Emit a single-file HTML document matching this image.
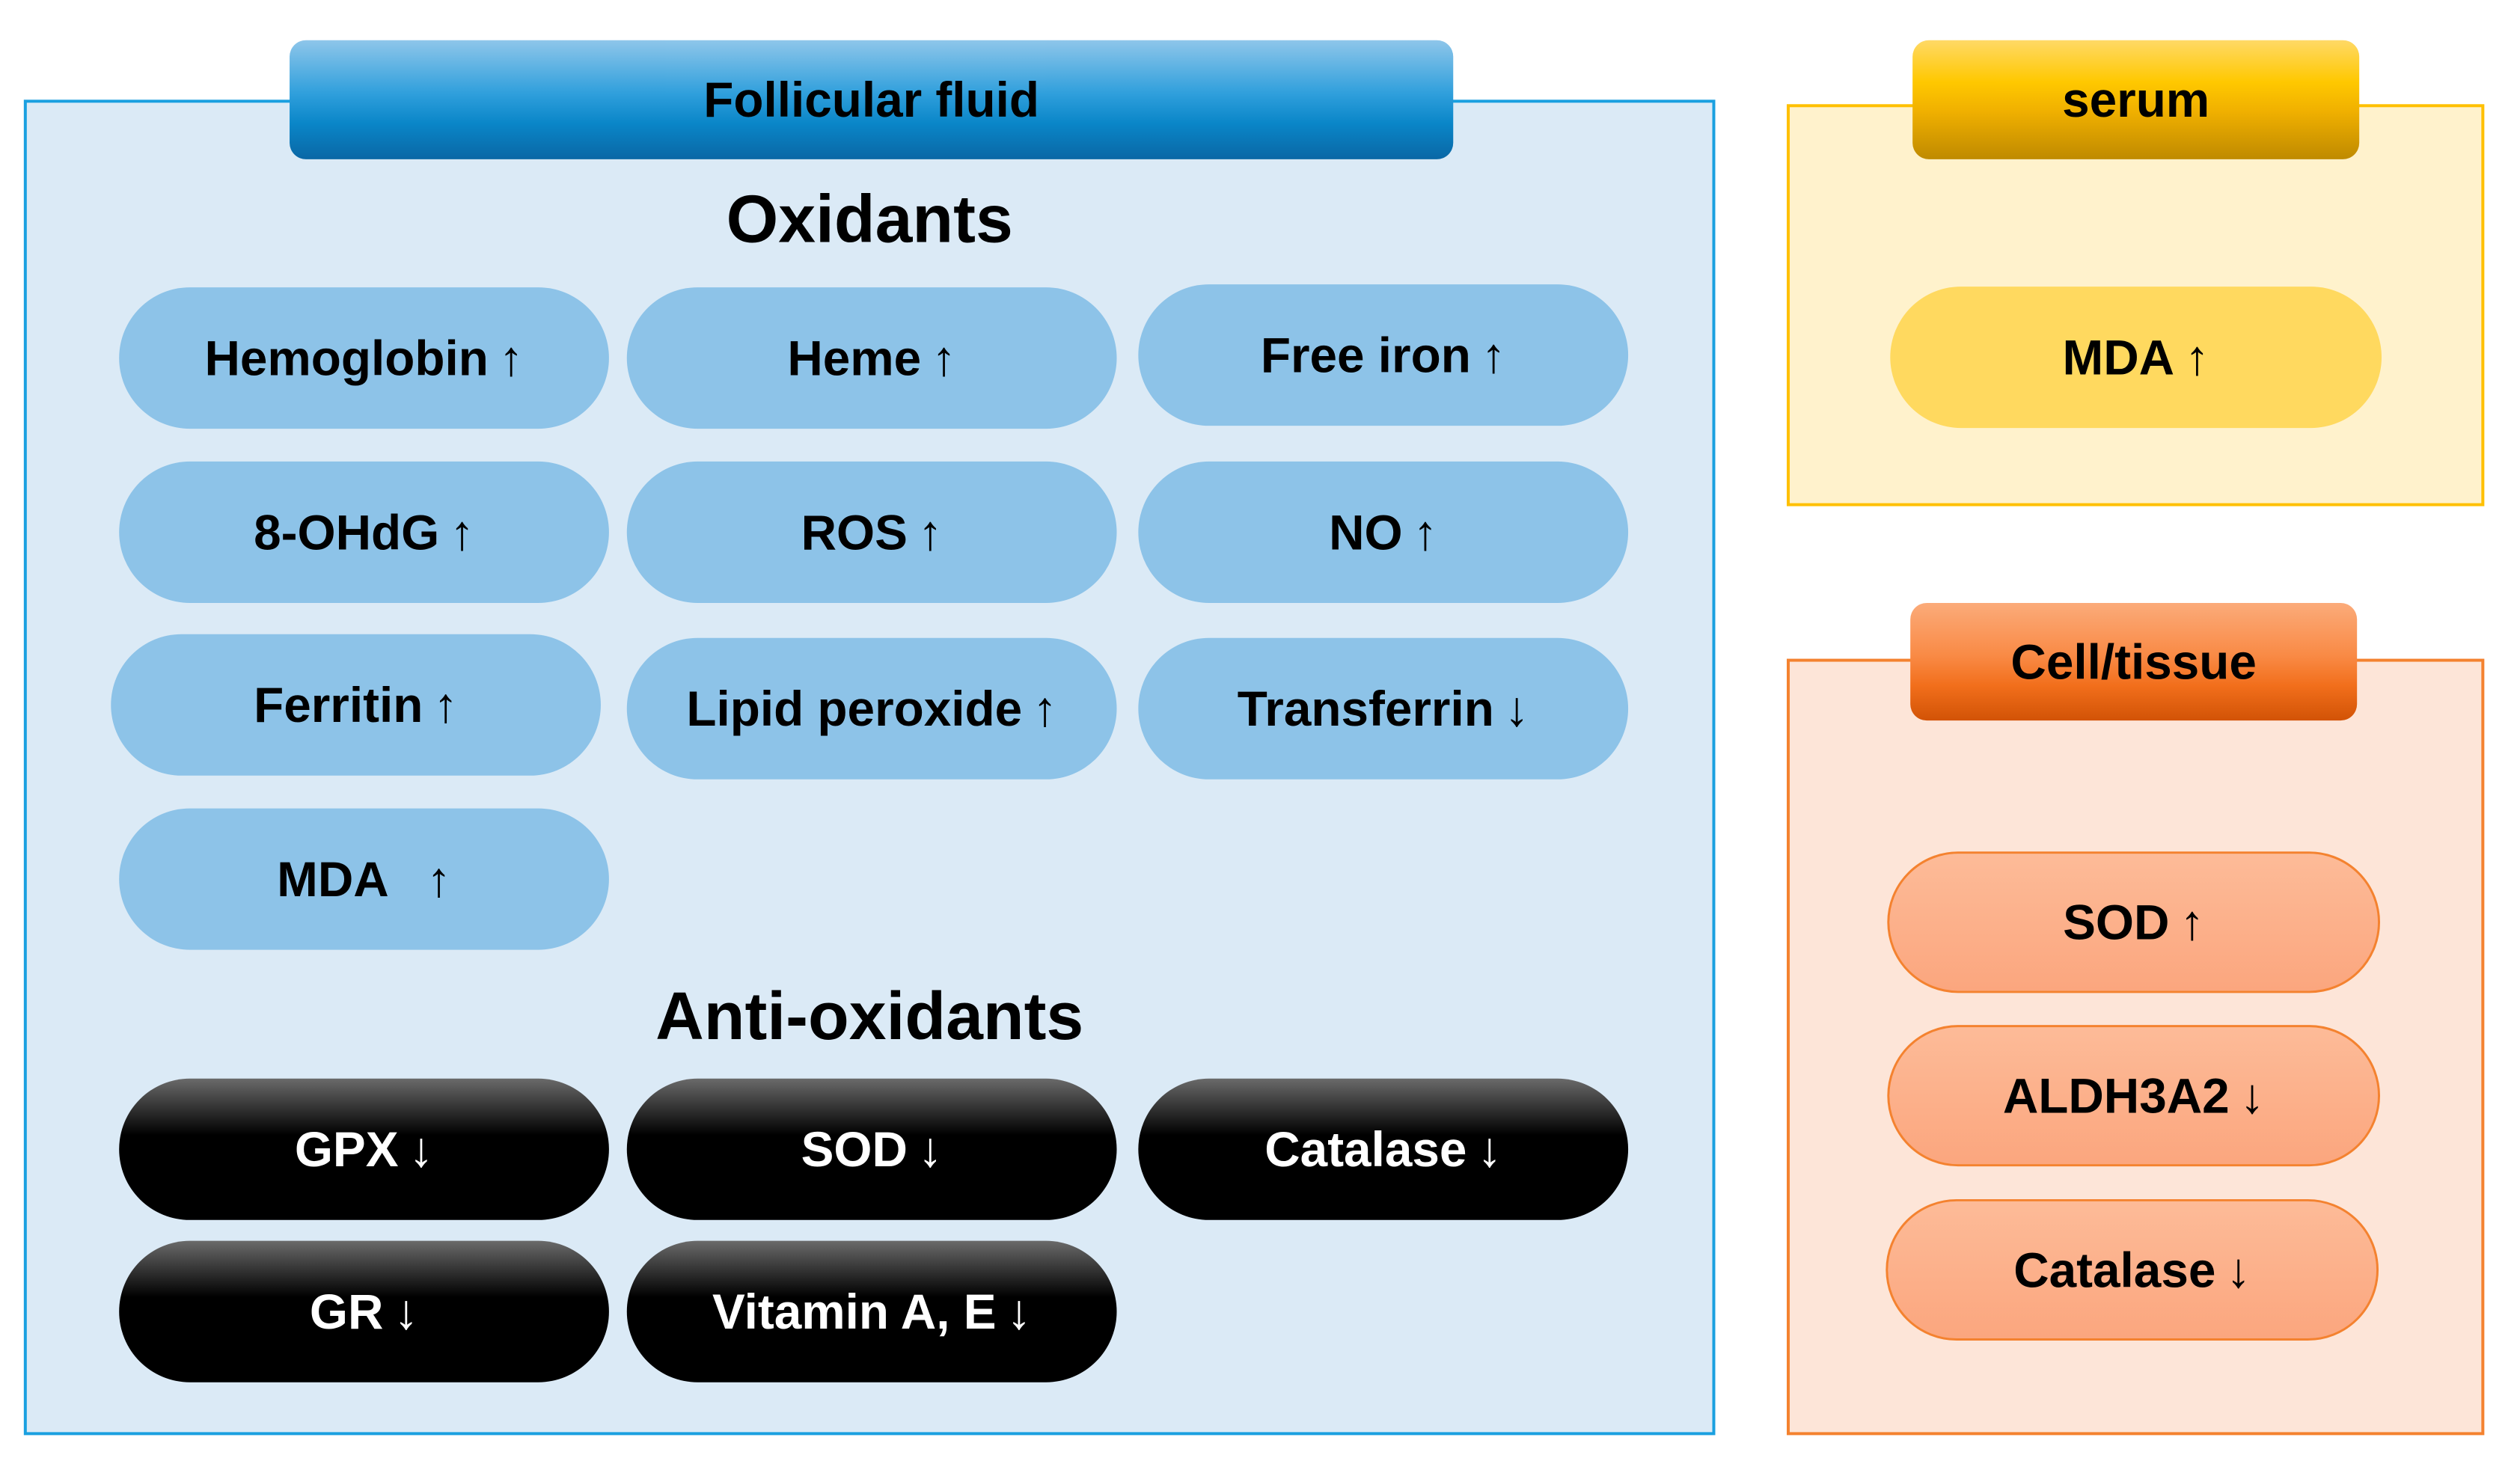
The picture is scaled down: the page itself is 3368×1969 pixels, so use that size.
<!DOCTYPE html>
<html><head><meta charset="utf-8"><style>
body{margin:0;width:3368px;height:1969px;background:#fff;position:relative;overflow:hidden;font-family:"Liberation Sans",sans-serif;}
#w{position:absolute;left:0;top:0;width:3368px;height:1969px;transform:scale(0.995);transform-origin:0 0;}
.box{position:absolute;box-sizing:border-box;}
.hd{position:absolute;box-sizing:border-box;border-radius:22px;display:flex;align-items:center;justify-content:center;font-weight:bold;font-size:66px;color:#000;}
.p{position:absolute;box-sizing:border-box;border-radius:95px;display:flex;align-items:center;justify-content:center;font-weight:bold;font-size:66px;color:#000;width:658px;height:190px;}
.b{background:#8dc3e8;}
.k{background:linear-gradient(#6a6a6a 0%,#000 40%,#000 100%);color:#fff;}
.ar{font-weight:normal;margin-left:14px;}
.t{position:absolute;font-weight:bold;color:#000;text-align:center;}
</style></head><body><div id="w">
<div class="box" style="left:32px;top:134px;width:2272px;height:1794px;background:#dbeaf6;border:4px solid #1aa0e0;"></div>
<div class="hd" style="left:389px;top:54px;width:1563px;height:160px;background:linear-gradient(#8ec6ea,#2f9fdc 45%,#0a86c8 70%,#0a67a5);">Follicular fluid</div>
<div class="t" style="left:32px;width:2272px;top:245px;font-size:90px;line-height:100px;">Oxidants</div>

<div class="p b" style="left:160px;top:386px;">Hemoglobin<span class="ar">↑</span></div>
<div class="p b" style="left:842px;top:386px;">Heme<span class="ar">↑</span></div>
<div class="p b" style="left:1529px;top:382px;">Free iron<span class="ar">↑</span></div>
<div class="p b" style="left:160px;top:620px;">8-OHdG<span class="ar">↑</span></div>
<div class="p b" style="left:842px;top:620px;">ROS<span class="ar">↑</span></div>
<div class="p b" style="left:1529px;top:620px;">NO<span class="ar">↑</span></div>
<div class="p b" style="left:149px;top:852px;">Ferritin<span class="ar">↑</span></div>
<div class="p b" style="left:842px;top:857px;">Lipid peroxide<span class="ar">↑</span></div>
<div class="p b" style="left:1529px;top:857px;">Transferrin<span class="ar">↓</span></div>
<div class="p b" style="left:160px;top:1086px;">MDA&nbsp;&nbsp;<span class="ar">↑</span></div>

<div class="t" style="left:32px;width:2272px;top:1316px;font-size:90px;line-height:100px;">Anti-oxidants</div>
<div class="p k" style="left:160px;top:1449px;">GPX<span class="ar">↓</span></div>
<div class="p k" style="left:842px;top:1449px;">SOD<span class="ar">↓</span></div>
<div class="p k" style="left:1529px;top:1449px;">Catalase<span class="ar">↓</span></div>
<div class="p k" style="left:160px;top:1667px;">GR<span class="ar">↓</span></div>
<div class="p k" style="left:842px;top:1667px;">Vitamin A, E<span class="ar">↓</span></div>

<div class="box" style="left:2400px;top:140px;width:937px;height:540px;background:#fff2cc;border:4px solid #ffc000;"></div>
<div class="hd" style="left:2569px;top:54px;width:600px;height:160px;background:linear-gradient(#ffd966,#ffc800 35%,#f0b000 60%,#bf8a00);">serum</div>
<div class="p" style="left:2539px;top:385px;width:660px;height:190px;background:#ffd95f;">MDA<span class="ar">↑</span></div>

<div class="box" style="left:2400px;top:885px;width:937px;height:1043px;background:#fde5d8;border:4px solid #f4822f;"></div>
<div class="hd" style="left:2566px;top:810px;width:600px;height:158px;background:linear-gradient(#fbab7a,#f98a45 45%,#f26f1c 70%,#d25306);">Cell/tissue</div>
<div class="p" style="left:2535px;top:1144px;width:662px;height:190px;background:linear-gradient(#fdbb98,#fba67e);border:3px solid #f4822f;">SOD<span class="ar">↑</span></div>
<div class="p" style="left:2535px;top:1377px;width:662px;height:190px;background:linear-gradient(#fdbb98,#fba67e);border:3px solid #f4822f;">ALDH3A2<span class="ar">↓</span></div>
<div class="p" style="left:2533px;top:1611px;width:662px;height:190px;background:linear-gradient(#fdbb98,#fba67e);border:3px solid #f4822f;">Catalase<span class="ar">↓</span></div>
</div></body></html>
